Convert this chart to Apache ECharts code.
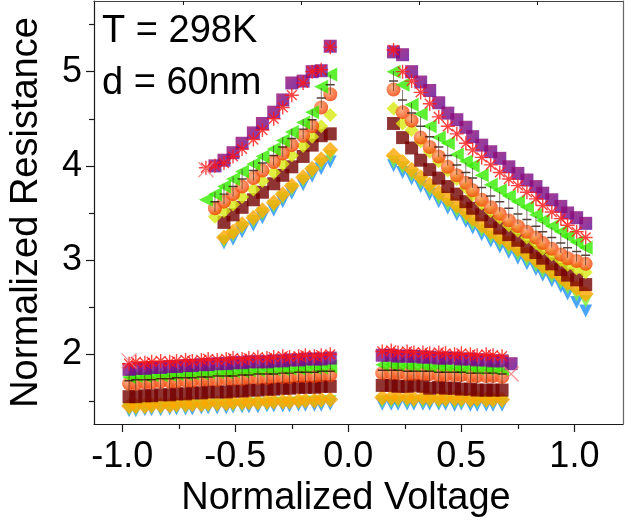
<!DOCTYPE html>
<html>
<head>
<meta charset="utf-8">
<script src="https://cdn.jsdelivr.net/npm/echarts@6/dist/echarts.min.js"></script>
<style>
  html, body { margin: 0; padding: 0; background: #fff; }
  #chart { width: 625px; height: 527px; }
</style>
</head>
<body>
<div id="chart"></div>
<script>
// ---- sweep voltages (normalized) for the four branches ----
const vHighNeg = [-0.63,-0.59,-0.55,-0.51,-0.47,-0.42,-0.38,-0.33,-0.29,-0.25,-0.20,-0.16,-0.12,-0.08];
const vHighPos = [0.20,0.24,0.28,0.32,0.36,0.40,0.44,0.48,0.52,0.55,0.59,0.63,0.67,0.71,0.75,0.79,0.83,0.86,0.90,0.94,0.97,1.01,1.05];
const vLowNeg  = [-0.97,-0.94,-0.90,-0.87,-0.83,-0.79,-0.76,-0.72,-0.69,-0.65,-0.62,-0.58,-0.54,-0.51,-0.47,-0.44,-0.40,-0.36,-0.33,-0.29,-0.26,-0.22,-0.19,-0.15,-0.12,-0.08];
const vLowPos  = [0.15,0.19,0.22,0.26,0.29,0.33,0.36,0.40,0.43,0.47,0.50,0.54,0.57,0.61,0.64,0.68,0.72];

// ---- normalized resistance per curve (hn/hp: high state, ln/lp: low state) ----
const rPurple = {
  hn: [null,4.00,4.06,4.14,4.24,4.35,4.45,4.57,4.70,4.88,4.90,5.00,5.01,5.27],
  hp: [5.21,5.18,5.00,4.89,4.80,4.67,4.56,4.49,4.41,4.31,4.22,4.15,4.08,3.99,3.92,3.85,3.78,3.71,3.64,3.57,3.50,3.45,3.39],
  ln: [1.84,1.85,1.85,1.86,1.86,1.87,1.87,1.88,1.88,1.89,1.89,1.90,1.90,1.91,1.91,1.92,1.92,1.92,1.93,1.93,1.94,1.94,1.95,1.95,1.95,1.96],
  lp: [1.99,1.99,1.98,1.98,1.98,1.97,1.97,1.96,1.96,1.96,1.95,1.95,1.94,1.94,1.93,1.93,1.90]
};
const rRed = {
  hn: [3.98,4.00,4.03,4.10,4.18,4.28,4.38,4.50,4.62,4.75,4.88,5.00,5.02,5.26],
  hp: [5.23,5.00,4.90,4.78,4.66,4.52,4.42,4.34,4.24,4.17,4.09,4.01,3.93,3.86,3.79,3.72,3.65,3.58,3.51,3.44,3.37,3.30,3.24],
  ln: [1.90,1.92,1.91,1.92,1.93,1.92,1.93,1.94,1.93,1.94,1.95,1.94,1.95,1.96,1.95,1.96,1.97,1.96,1.97,1.98,1.97,1.98,1.99,1.98,1.99,2.00],
  lp: [2.03,2.04,2.02,2.03,2.02,2.02,2.01,2.02,2.01,2.00,2.01,2.00,1.99,2.00,1.99,1.98,null]
};
const rGreen = {
  hn: [3.64,3.70,3.78,3.86,3.94,4.02,4.10,4.18,4.27,4.36,4.46,4.57,4.84,4.97],
  hp: [5.00,4.86,4.65,4.55,4.42,4.30,4.24,4.12,4.05,4.00,3.90,3.80,3.74,3.68,3.62,3.56,3.48,3.42,3.36,3.30,3.25,3.19,3.13],
  ln: [1.76,1.77,1.77,1.78,1.78,1.78,1.79,1.79,1.80,1.80,1.81,1.81,1.81,1.82,1.82,1.83,1.83,1.84,1.84,1.84,1.85,1.85,1.86,1.86,1.86,1.87],
  lp: [1.89,1.89,1.89,1.88,1.88,1.88,1.87,1.87,1.87,1.86,1.86,1.86,1.85,1.85,1.85,1.84,null]
};
const rBlack = {
  hn: [null,3.62,3.70,3.78,3.86,3.95,4.03,4.11,4.20,4.29,4.39,4.49,4.72,4.86],
  hp: [4.90,4.70,4.56,4.42,4.31,4.20,4.11,4.01,3.93,3.87,3.77,3.68,3.62,3.55,3.49,3.43,3.36,3.30,3.24,3.18,3.13,3.09,3.05],
  ln: [1.72,1.73,1.73,1.73,1.74,1.74,1.75,1.75,1.75,1.76,1.76,1.77,1.77,1.77,1.78,1.78,1.79,1.79,1.79,1.80,1.80,1.81,1.81,1.81,1.82,1.82],
  lp: [1.83,1.83,1.83,1.82,1.82,1.82,1.82,1.81,1.81,1.81,1.81,1.80,1.80,1.80,1.80,1.79,null]
};
const rOrangeRed = {
  hn: [null,3.55,3.62,3.70,3.78,3.87,3.95,4.04,4.13,4.22,4.32,4.42,4.62,4.76],
  hp: [4.81,4.57,4.48,4.30,4.20,4.10,3.99,3.90,3.82,3.74,3.64,3.56,3.49,3.42,3.36,3.30,3.24,3.18,3.12,3.06,3.02,2.99,2.96],
  ln: [1.69,1.69,1.70,1.70,1.71,1.71,1.71,1.72,1.72,1.73,1.73,1.73,1.74,1.74,1.74,1.75,1.75,1.75,1.76,1.76,1.76,1.77,1.77,1.77,1.78,1.78],
  lp: [1.80,1.80,1.80,1.79,1.79,1.79,1.79,1.78,1.78,1.78,1.78,1.77,1.77,1.77,1.77,1.76,null]
};
const rYellow = {
  hn: [null,3.46,3.52,3.59,3.67,3.75,3.84,3.93,4.02,4.11,4.21,4.31,4.42,4.54],
  hp: [4.61,4.45,4.38,4.26,4.15,4.05,3.95,3.86,3.77,3.69,3.60,3.52,3.45,3.37,3.31,3.24,3.18,3.12,3.06,3.00,2.95,2.91,2.87],
  ln: [],
  lp: []
};
const rMaroon = {
  hn: [null,null,3.40,3.48,3.56,3.64,3.72,3.81,3.90,3.99,4.10,4.22,4.32,4.34],
  hp: [4.45,4.30,4.19,4.06,3.96,3.87,3.78,3.70,3.62,3.55,3.48,3.41,3.34,3.27,3.21,3.14,3.08,3.02,2.96,2.90,2.84,2.79,2.74],
  ln: [1.55,1.55,1.56,1.56,1.57,1.57,1.58,1.58,1.59,1.59,1.60,1.60,1.60,1.61,1.61,1.62,1.62,1.63,1.63,1.64,1.64,1.65,1.65,1.65,1.66,1.66],
  lp: [1.67,1.67,1.66,1.66,1.67,1.66,1.64,1.65,1.64,1.64,1.63,1.63,1.62,1.62,1.62,1.62,null]
};
const rOrange = {
  hn: [null,null,3.24,3.30,3.38,3.45,3.53,3.61,3.70,3.79,3.88,3.97,4.07,4.17],
  hp: [4.11,4.04,3.96,3.88,3.80,3.72,3.65,3.58,3.51,3.44,3.37,3.30,3.24,3.18,3.12,3.06,3.00,2.94,2.88,2.82,2.76,2.70,2.64],
  ln: [1.45,1.45,1.45,1.46,1.46,1.46,1.47,1.47,1.47,1.47,1.48,1.48,1.48,1.49,1.49,1.49,1.49,1.50,1.50,1.50,1.50,1.51,1.51,1.51,1.52,1.52],
  lp: [1.54,1.54,1.54,1.54,1.53,1.54,1.53,1.53,1.53,1.53,1.53,1.52,1.53,1.52,1.52,1.52,null]
};
const rLime = {
  hn: [null,null,3.20,3.26,3.34,3.41,3.49,3.57,3.66,3.75,3.84,3.93,4.02,4.10],
  hp: [4.04,3.98,3.90,3.82,3.74,3.66,3.59,3.52,3.45,3.38,3.31,3.24,3.18,3.12,3.06,3.00,2.94,2.88,2.82,2.76,2.70,2.63,2.56],
  ln: [1.42,1.42,1.43,1.43,1.43,1.44,1.44,1.44,1.45,1.45,1.45,1.46,1.46,1.46,1.46,1.47,1.47,1.47,1.48,1.48,1.48,1.48,1.49,1.49,1.49,1.50],
  lp: [1.50,1.50,1.50,1.50,1.50,1.50,1.50,1.49,1.50,1.49,1.49,1.49,1.49,1.49,1.49,1.49,null]
};
const rBlue = {
  hn: [null,null,3.18,3.22,3.30,3.37,3.45,3.53,3.62,3.71,3.80,3.89,3.97,4.04],
  hp: [4.00,3.93,3.86,3.78,3.70,3.62,3.55,3.48,3.41,3.34,3.27,3.20,3.14,3.08,3.02,2.96,2.90,2.84,2.78,2.72,2.64,2.55,2.46],
  ln: [1.40,1.40,1.41,1.41,1.41,1.42,1.42,1.42,1.42,1.43,1.43,1.43,1.43,1.44,1.44,1.44,1.44,1.45,1.45,1.45,1.45,1.46,1.46,1.46,1.46,1.47],
  lp: [1.47,1.47,1.47,1.47,1.47,1.47,1.47,1.47,1.47,1.46,1.47,1.46,1.46,1.46,1.46,1.46,null]
};
// stray pink crosses at the sweep ends
const pinkV = [-0.63, -0.97, 0.72];
const pinkR = [3.96, 1.93, 1.79];

// ---- axis ticks ----
const xTicks = [-1.0, -0.5, 0.0, 0.5, 1.0];
const xMinorTicks = [-0.75, -0.25, 0.25, 0.75];
const xTopTicks = [-0.731, -0.209, 0.313, 0.835];
const yTicks = [2, 3, 4, 5];
const yMinorTicks = [1.5, 2.5, 3.5, 4.5, 5.5];
const annotations = ['T = 298K', 'd = 60nm'];

// ---- helpers ----
function pairs(xs, ys) {
  const out = [];
  xs.forEach((x, i) => { if (ys[i] != null) out.push([x, ys[i]]); });
  return out;
}
function curvePoints(r) {
  return [].concat(pairs(vHighNeg, r.hn), pairs(vHighPos, r.hp),
                   pairs(vLowNeg, r.ln), pairs(vLowPos, r.lp));
}

const FONT = "'Liberation Sans', Arial, sans-serif";
const INK = '#1a1a1a';
const X_MIN = -1.125, X_MAX = 1.215, Y_MIN = 1.26, Y_MAX = 5.75;

const symAsterisk = 'path://M0,5L10,5M5,0L5,10M1.5,1.5L8.5,8.5M8.5,1.5L1.5,8.5';
const symPlus = 'path://M4,0L4,16M0,8L8,8';
const symCross = 'path://M0,0L10,10M10,0L0,10';

function scatter(data, symbol, size, itemStyle, rotate) {
  return {
    type: 'scatter', data, symbol, symbolSize: size,
    symbolRotate: rotate || 0, itemStyle, silent: true,
    xAxisIndex: 0, yAxisIndex: 0
  };
}

const series = [
  scatter(curvePoints(rBlue), 'triangle', 13, { color: '#1e8fff' }, 180),
  scatter(curvePoints(rLime), 'triangle', 13, { color: '#7cf03a' }, 180),
  scatter(curvePoints(rOrange), 'diamond', 16, { color: '#ffa600' }),
  scatter(curvePoints(rMaroon), 'rect', 13, { color: '#740000' }),
  scatter(curvePoints(rYellow), 'diamond', 14, { color: '#d8ea12' }),
  scatter(curvePoints(rOrangeRed), 'circle', 14, {
    color: { type: 'radial', x: 0.4, y: 0.35, r: 0.65,
      colorStops: [{ offset: 0, color: '#ff9d66' }, { offset: 1, color: '#f03c00' }] }
  }),
  scatter(curvePoints(rGreen), 'triangle', 14, { color: '#36ec00' }, 90),
  scatter(curvePoints(rBlack), symPlus, [9, 20], { color: 'none', borderColor: '#2a1208', borderWidth: 1 }),
  scatter(curvePoints(rPurple), 'rect', 13, {
    color: { type: 'linear', x: 0, y: 0, x2: 1, y2: 1,
      colorStops: [{ offset: 0, color: '#9a0a6e' }, { offset: 1, color: '#5e0a96' }] }
  }),
  scatter(curvePoints(rRed), symAsterisk, 14, { color: 'none', borderColor: '#ff1414', borderWidth: 1.4 }),
  scatter(pairs(pinkV, pinkR), symCross, 15, { color: 'none', borderColor: '#f07a80', borderWidth: 1.4 })
];

const chart = echarts.init(document.getElementById('chart'), null, { renderer: 'canvas' });
chart.setOption({
  animation: false,
  backgroundColor: '#ffffff',
  grid: { left: 94, right: 2, top: 1, bottom: 103, containLabel: false },
  xAxis: [
    {
      type: 'value', min: X_MIN, max: X_MAX, position: 'bottom',
      axisLine: { show: true, onZero: false, lineStyle: { color: INK, width: 1.2 } },
      axisTick: { show: true, length: 8, customValues: xTicks, lineStyle: { color: INK, width: 1.2 } },
      axisLabel: { customValues: xTicks, formatter: v => v.toFixed(1), fontSize: 36,
        fontFamily: FONT, color: '#000', margin: 15 },
      splitLine: { show: false },
      name: 'Normalized Voltage', nameLocation: 'middle', nameGap: 52,
      nameTextStyle: { fontSize: 38, fontFamily: FONT, color: '#000', padding: [0, 25, 0, 0] }
    },
    {
      type: 'value', min: X_MIN, max: X_MAX, position: 'bottom',
      axisLine: { show: false, onZero: false },
      axisTick: { show: true, length: 5, customValues: xMinorTicks, lineStyle: { color: INK, width: 1.2 } },
      axisLabel: { show: false }, splitLine: { show: false }
    },
    {
      type: 'value', min: X_MIN, max: X_MAX, position: 'top',
      axisLine: { show: true, onZero: false, lineStyle: { color: '#444', width: 1.2 } },
      axisTick: { show: true, inside: true, length: 4, customValues: xTopTicks, lineStyle: { color: INK } },
      axisLabel: { show: false }, splitLine: { show: false }
    }
  ],
  yAxis: [
    {
      type: 'value', min: Y_MIN, max: Y_MAX, position: 'left',
      axisLine: { show: true, onZero: false, lineStyle: { color: INK, width: 1.2 } },
      axisTick: { show: true, length: 8, customValues: yTicks, lineStyle: { color: INK, width: 1.2 } },
      axisLabel: { customValues: yTicks, fontSize: 36, fontFamily: FONT, color: '#000', margin: 12 },
      splitLine: { show: false },
      name: 'Normalized Resistance', nameLocation: 'middle', nameGap: 48,
      nameTextStyle: { fontSize: 38, fontFamily: FONT, color: '#000' }
    },
    {
      type: 'value', min: Y_MIN, max: Y_MAX, position: 'left',
      axisLine: { show: false, onZero: false },
      axisTick: { show: true, length: 5, customValues: yMinorTicks, lineStyle: { color: INK, width: 1.2 } },
      axisLabel: { show: false }, splitLine: { show: false }
    },
    {
      type: 'value', min: Y_MIN, max: Y_MAX, position: 'right',
      axisLine: { show: true, onZero: false, lineStyle: { color: '#666', width: 1.2 } },
      axisTick: { show: false }, axisLabel: { show: false }, splitLine: { show: false }
    }
  ],
  graphic: annotations.map((t, i) => ({
    type: 'text', left: 102, top: 13 + i * 52, silent: true,
    style: { text: t, fontSize: 38, fontFamily: FONT, fill: '#000' }
  })),
  series
});
</script>
</body>
</html>
